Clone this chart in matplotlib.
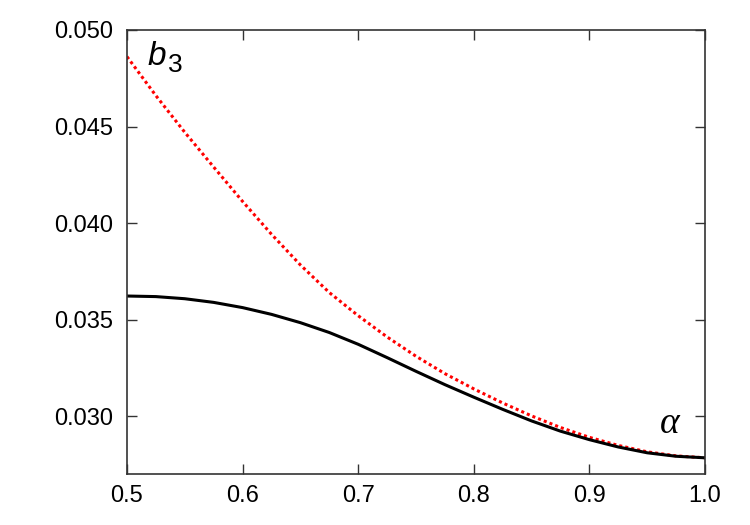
import numpy as np
import matplotlib
matplotlib.use("Agg")
import matplotlib.pyplot as plt

plt.rcParams['font.family'] = ['Liberation Sans', 'DejaVu Sans']

# alpha grid (step 0.025)
alpha = [0.500, 0.525, 0.550, 0.575, 0.600, 0.625, 0.650, 0.675, 0.700, 0.725,
         0.750, 0.775, 0.800, 0.825, 0.850, 0.875, 0.900, 0.925, 0.950, 0.975, 1.000]

# solid black curve
b3_solid = [0.03622, 0.03619, 0.03608, 0.03589, 0.03562, 0.03527, 0.03484, 0.03433,
            0.03372, 0.03303, 0.03232, 0.03163, 0.03098, 0.03035, 0.02975, 0.02922,
            0.02878, 0.02840, 0.02810, 0.02792, 0.02784]

# dotted red curve
b3_dotted = [0.04862, 0.04660, 0.04470, 0.04290, 0.04112, 0.03942, 0.03783, 0.03640,
             0.03520, 0.03410, 0.03310, 0.03220, 0.03141, 0.03068, 0.03001, 0.02941,
             0.02890, 0.02848, 0.02815, 0.02794, 0.02784]

xticks = [0.5, 0.6, 0.7, 0.8, 0.9, 1.0]
yticks = [0.030, 0.035, 0.040, 0.045, 0.050]

fig = plt.figure(figsize=(7.5, 5.25), dpi=100)
ax = fig.add_axes([0.1693, 0.0971, 0.7707, 0.8458])

ax.plot(alpha, b3_dotted, color='red', linestyle=(0, (1, 1)), linewidth=2.2)
ax.plot(alpha, b3_solid, color='black', linewidth=2.2)

ax.set_xlim(0.5, 1.0)
ax.set_ylim(0.0270, 0.0500)
ax.set_xticks(xticks)
ax.set_xticklabels([f"{v:.1f}" for v in xticks])
ax.set_yticks(yticks)
ax.set_yticklabels([f"{v:.3f}" for v in yticks])

ax.tick_params(direction='in', length=7, width=1, top=True, right=True,
               labelsize=17, colors='#333333', labelcolor='black')
ax.tick_params(axis='y', pad=10)
ax.tick_params(axis='x', pad=8)
for s in ax.spines.values():
    s.set_linewidth(1.2)
    s.set_color('#333333')

ax.text(0.518, 0.0482, 'b', fontsize=24, style='italic', ha='left', va='baseline')
ax.text(0.5355, 0.0478, '3', fontsize=19, ha='left', va='baseline')
ax.text(0.961, 0.02915, 'α', fontsize=27, style='italic',
        family=['Liberation Serif', 'DejaVu Serif'], ha='left', va='baseline')

fig.savefig('out.png', dpi=100)
